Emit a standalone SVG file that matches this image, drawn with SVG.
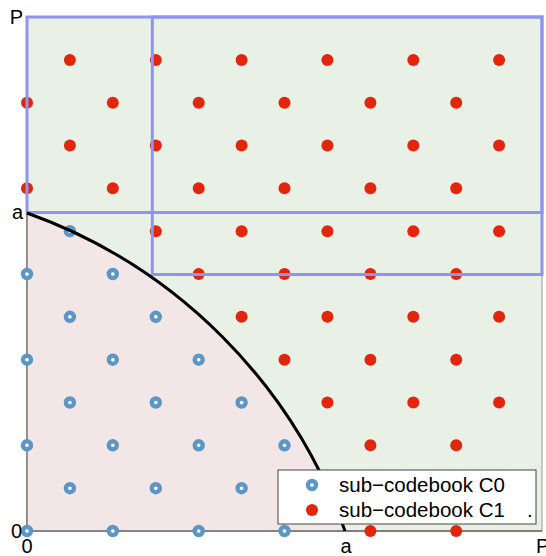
<svg xmlns="http://www.w3.org/2000/svg" xmlns:xlink="http://www.w3.org/1999/xlink" width="546" height="556" viewBox="0 0 546 556">
<style>
.lbl{font-family:"Liberation Sans",Arial,sans-serif;font-size:20px;fill:#000}
.leg{font-family:"Liberation Sans",Arial,sans-serif;font-size:20.5px;fill:#000}
.rect{fill:none;stroke:#9094ef;stroke-width:3}
.axis{stroke:#666;stroke-width:1.3;fill:none}
.red{fill:#e3250d}
.blue{fill:#fff;stroke:#5b96c6;stroke-width:4.4}
</style>
<defs>
<circle id="c1" r="6" class="red"/>
<circle id="c0" r="4" class="blue"/>
</defs>
<rect width="546" height="556" fill="#fff"/>
<g id="regions">
<rect x="27" y="17" width="515" height="514" fill="#e9f1e6" stroke="#999" stroke-width="1"/>
<path d="M27,531 L27,213 A524.6,524.6 0 0 1 345,531 Z" fill="#f3e6e7"/>
</g>
<g id="axes">
<line class="axis" x1="27" y1="17" x2="27" y2="531"/>
<line class="axis" x1="27" y1="531" x2="542" y2="531"/>
</g>
<g id="codebook-C0">
<use xlink:href="#c0" x="27" y="531"/><use xlink:href="#c0" x="112.8" y="531"/><use xlink:href="#c0" x="198.7" y="531"/><use xlink:href="#c0" x="284.5" y="531"/>
<use xlink:href="#c0" x="69.9" y="488.2"/><use xlink:href="#c0" x="155.8" y="488.2"/><use xlink:href="#c0" x="241.6" y="488.2"/>
<use xlink:href="#c0" x="27" y="445.3"/><use xlink:href="#c0" x="112.8" y="445.3"/><use xlink:href="#c0" x="198.7" y="445.3"/><use xlink:href="#c0" x="284.5" y="445.3"/>
<use xlink:href="#c0" x="69.9" y="402.5"/><use xlink:href="#c0" x="155.8" y="402.5"/><use xlink:href="#c0" x="241.6" y="402.5"/>
<use xlink:href="#c0" x="27" y="359.7"/><use xlink:href="#c0" x="112.8" y="359.7"/><use xlink:href="#c0" x="198.7" y="359.7"/>
<use xlink:href="#c0" x="69.9" y="316.8"/><use xlink:href="#c0" x="155.8" y="316.8"/>
<use xlink:href="#c0" x="27" y="274"/><use xlink:href="#c0" x="112.8" y="274"/>
<use xlink:href="#c0" x="69.9" y="231.2"/>
</g>
<g id="codebook-C1">
<use xlink:href="#c1" x="370.4" y="531"/><use xlink:href="#c1" x="456.2" y="531"/>
<use xlink:href="#c1" x="370.4" y="445.3"/><use xlink:href="#c1" x="456.2" y="445.3"/>
<use xlink:href="#c1" x="327.4" y="402.5"/><use xlink:href="#c1" x="413.3" y="402.5"/><use xlink:href="#c1" x="499.1" y="402.5"/>
<use xlink:href="#c1" x="284.5" y="359.7"/><use xlink:href="#c1" x="370.4" y="359.7"/><use xlink:href="#c1" x="456.2" y="359.7"/>
<use xlink:href="#c1" x="241.6" y="316.8"/><use xlink:href="#c1" x="327.4" y="316.8"/><use xlink:href="#c1" x="413.3" y="316.8"/><use xlink:href="#c1" x="499.1" y="316.8"/>
<use xlink:href="#c1" x="198.7" y="274"/><use xlink:href="#c1" x="284.5" y="274"/><use xlink:href="#c1" x="370.4" y="274"/><use xlink:href="#c1" x="456.2" y="274"/>
<use xlink:href="#c1" x="155.8" y="231.2"/><use xlink:href="#c1" x="241.6" y="231.2"/><use xlink:href="#c1" x="327.4" y="231.2"/><use xlink:href="#c1" x="413.3" y="231.2"/><use xlink:href="#c1" x="499.1" y="231.2"/>
<use xlink:href="#c1" x="27" y="188.3"/><use xlink:href="#c1" x="112.8" y="188.3"/><use xlink:href="#c1" x="198.7" y="188.3"/><use xlink:href="#c1" x="284.5" y="188.3"/><use xlink:href="#c1" x="370.4" y="188.3"/><use xlink:href="#c1" x="456.2" y="188.3"/>
<use xlink:href="#c1" x="69.9" y="145.5"/><use xlink:href="#c1" x="155.8" y="145.5"/><use xlink:href="#c1" x="241.6" y="145.5"/><use xlink:href="#c1" x="327.4" y="145.5"/><use xlink:href="#c1" x="413.3" y="145.5"/><use xlink:href="#c1" x="499.1" y="145.5"/>
<use xlink:href="#c1" x="27" y="102.7"/><use xlink:href="#c1" x="112.8" y="102.7"/><use xlink:href="#c1" x="198.7" y="102.7"/><use xlink:href="#c1" x="284.5" y="102.7"/><use xlink:href="#c1" x="370.4" y="102.7"/><use xlink:href="#c1" x="456.2" y="102.7"/>
<use xlink:href="#c1" x="69.9" y="59.9"/><use xlink:href="#c1" x="155.8" y="59.9"/><use xlink:href="#c1" x="241.6" y="59.9"/><use xlink:href="#c1" x="327.4" y="59.9"/><use xlink:href="#c1" x="413.3" y="59.9"/><use xlink:href="#c1" x="499.1" y="59.9"/>
</g>
<g id="boxes">
<rect class="rect" x="27" y="17" width="515" height="195.5"/>
<rect class="rect" x="152.3" y="17" width="389.7" height="257.5"/>
</g>
<g id="boundary">
<path d="M27,213 A524.6,524.6 0 0 1 345,531" fill="none" stroke="#000" stroke-width="3"/>
</g>
<g id="legend">
<rect x="278" y="470" width="258" height="54" fill="#fff" stroke="#444" stroke-width="1"/>
<use xlink:href="#c0" x="312" y="485"/>
<use xlink:href="#c1" x="312" y="510"/>
<text class="leg" x="339" y="492">sub−codebook C0</text>
<text class="leg" x="339" y="517">sub−codebook C1</text>
<text class="leg" x="527" y="517">.</text>
</g>
<g id="labels">
<text class="lbl" x="23" y="24" text-anchor="end">P</text>
<text class="lbl" x="23" y="219" text-anchor="end">a</text>
<text class="lbl" x="22" y="538" text-anchor="end">0</text>
<text class="lbl" x="27" y="553" text-anchor="middle">0</text>
<text class="lbl" x="346" y="553" text-anchor="middle">a</text>
<text class="lbl" x="536" y="553">P</text>
</g>
</svg>
